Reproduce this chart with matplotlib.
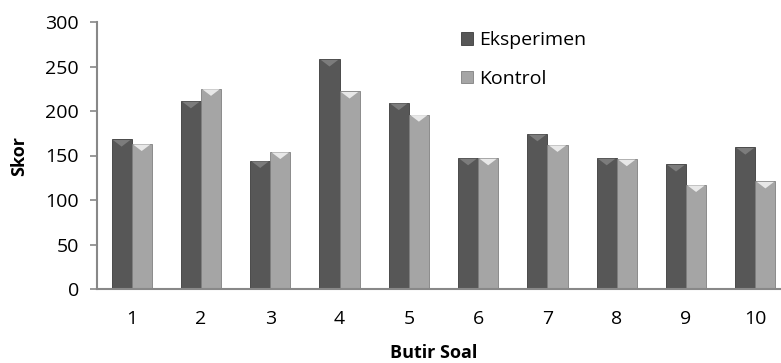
import numpy as np
import matplotlib.pyplot as plt
from matplotlib.patches import Polygon

# Dados do gráfico
butir = ['1', '2', '3', '4', '5', '6', '7', '8', '9', '10']
eksperimen = [168, 211, 144, 258, 209, 147, 174, 147, 140, 159]
kontrol = [163, 225, 154, 222, 196, 147, 162, 146, 117, 121]

plt.rcParams['font.family'] = ['Open Sans', 'DejaVu Sans']

fig = plt.figure(figsize=(7.81, 3.63), dpi=100)
# eixo passa um pouco da borda direita, como no original
ax = fig.add_axes([97 / 781, 74 / 363, 693 / 781, 267 / 363])

x = np.arange(len(butir))
w = 0.29

cores = {'Eksperimen': ('#575757', '#7c7c7c'), 'Kontrol': ('#a5a5a5', '#e8e8e8')}

def barras(pos, vals, nome):
    cor, topo = cores[nome]
    b = ax.bar(pos, vals, w, color=cor, edgecolor='#3c3c3c' if nome == 'Eksperimen' else '#808080',
               linewidth=0.6, label=nome, zorder=2)
    # bisel no topo
    for xi, v in zip(pos, vals):
        x0 = xi - w / 2
        tri = Polygon([[x0 + 0.02, v - 0.6], [x0 + w - 0.02, v - 0.6], [xi, v - 8]],
                      closed=True, color=topo, lw=0, zorder=3)
        ax.add_patch(tri)
    return b

barras(x - w / 2, eksperimen, 'Eksperimen')
barras(x + w / 2, kontrol, 'Kontrol')

ax.set_xlim(-0.5, len(butir) - 0.5)
ax.set_ylim(0, 300)
ax.set_yticks(np.arange(0, 301, 50))
ax.set_xticks(x)
ax.set_xticklabels(butir)
ax.tick_params(axis='x', length=0, pad=15, labelsize=14)
ax.tick_params(axis='y', length=5, color='#888888', width=1.2, pad=8, labelsize=14)

for s in ['top', 'right']:
    ax.spines[s].set_visible(False)
for s in ['left', 'bottom']:
    ax.spines[s].set_color('#888888')
    ax.spines[s].set_linewidth(1.5)

ax.set_ylabel('Skor', fontsize=13, fontweight='bold', labelpad=12)
fig.text(434 / 781, 1 - 353 / 363, 'Butir Soal', fontsize=13, fontweight='bold', ha='center', va='center')

ax.legend(loc='upper left', bbox_to_anchor=(0.5, 1.03), frameon=False, fontsize=14,
          handlelength=0.6, handleheight=0.6, handletextpad=0.35, labelspacing=1.05)

fig.savefig('out.png', dpi=100)
